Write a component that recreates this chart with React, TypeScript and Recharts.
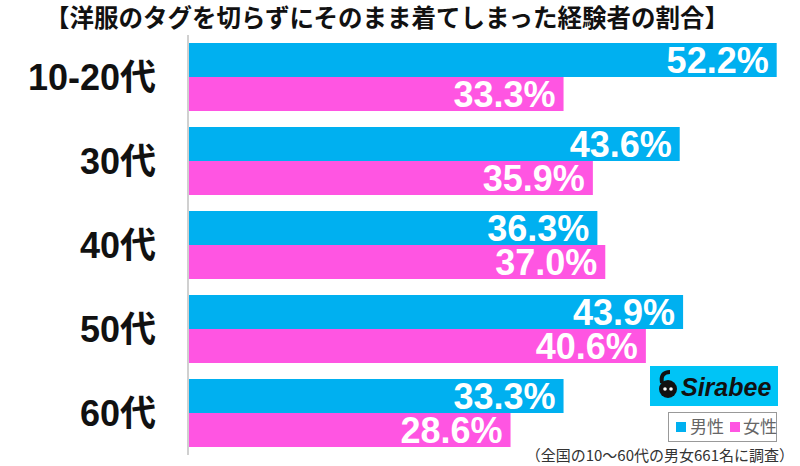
import { BarChart, Bar, XAxis, YAxis, LabelList } from 'recharts';

const categories = ['10-20代', '30代', '40代', '50代', '60代'];
const maleValues = [52.2, 43.6, 36.3, 43.9, 33.3];
const femaleValues = [33.3, 35.9, 37.0, 40.6, 28.6];
const seriesNames = ['男性', '女性'];

const title = '【洋服のタグを切らずにそのまま着てしまった経験者の割合】';
const footnote = '（全国の10〜60代の男女661名に調査）';

const BLUE = '#00b0f0';
const PINK = '#ff55e2';

const data = categories.map((name, i) => ({
  name,
  male: maleValues[i],
  female: femaleValues[i],
}));

const numFont = "'Liberation Sans', Arial, 'Noto Sans CJK JP', sans-serif";
const jpFont = "'Noto Sans CJK JP', 'Liberation Sans', sans-serif";

function CategoryTick(props: any) {
  const { x, y, payload } = props;
  return (
    <text
      x={x}
      y={y}
      dy={13}
      textAnchor="end"
      fontSize={36}
      fontWeight="bold"
      fontFamily={numFont}
      fill="#111"
    >
      {payload.value}
    </text>
  );
}

const pct = (v: any) => `${Number(v).toFixed(1)}%`;

export default function App() {
  return (
    <div style={{ position: 'absolute', left: 0, top: 0, width: 800, height: 466, background: '#fff' }}>
      <BarChart
        width={800}
        height={466}
        data={data}
        layout="vertical"
        margin={{ top: 35, right: 3, bottom: 11, left: 0 }}
        barCategoryGap={8}
        barGap={0}
      >
        <XAxis type="number" domain={[0, 54]} hide />
        <YAxis
          type="category"
          dataKey="name"
          width={188}
          tickLine={false}
          tickSize={0}
          tickMargin={32}
          axisLine={{ stroke: '#d0d0d0', strokeWidth: 2 }}
          tick={<CategoryTick />}
        />
        <Bar dataKey="male" name={seriesNames[0]} fill={BLUE} isAnimationActive={false}>
          <LabelList
            dataKey="male"
            position="insideRight"
            offset={8}
            fill="#fff"
            fontSize={36}
            fontWeight="bold"
            fontFamily={numFont}
            formatter={pct}
          />
        </Bar>
        <Bar dataKey="female" name={seriesNames[1]} fill={PINK} isAnimationActive={false}>
          <LabelList
            dataKey="female"
            position="insideRight"
            offset={8}
            fill="#fff"
            fontSize={36}
            fontWeight="bold"
            fontFamily={numFont}
            formatter={pct}
          />
        </Bar>
      </BarChart>

      <svg width={800} height={466} style={{ position: 'absolute', left: 0, top: 0, pointerEvents: 'none' }}>
        <text x={387} y={27} textAnchor="middle" fontSize={24.5} fontWeight="bold" fontFamily={jpFont} fill="#111">
          {title}
        </text>

        {/* logo */}
        <rect x={650} y={366} width={128} height={40} fill="#00c4f6" />
        <circle cx={668} cy={389} r={9} fill="#111" />
        <path d="M662 383 Q660 372 670 372" stroke="#111" strokeWidth={4} fill="none" />
        <circle cx={665} cy={389} r={1.8} fill="#fff" />
        <circle cx={671} cy={389} r={1.8} fill="#fff" />
        <text x={681} y={396} fontSize={25} fontWeight="bold" fontStyle="italic" fontFamily={numFont} fill="#111">
          Sirabee
        </text>

        {/* legend */}
        <rect x={668.5} y={412.5} width={108} height={29} fill="#fff" stroke="#999" strokeWidth={1} />
        <rect x={676} y={422} width={10} height={10} fill={BLUE} />
        <text x={690} y={433} fontSize={17} fontFamily={jpFont} fill="#666">{seriesNames[0]}</text>
        <rect x={730} y={422} width={10} height={10} fill={PINK} />
        <text x={743} y={433} fontSize={17} fontFamily={jpFont} fill="#666">{seriesNames[1]}</text>

        <text x={794} y={461} textAnchor="end" fontSize={15} fontFamily={jpFont} fill="#333">
          {footnote}
        </text>
      </svg>
    </div>
  );
}
